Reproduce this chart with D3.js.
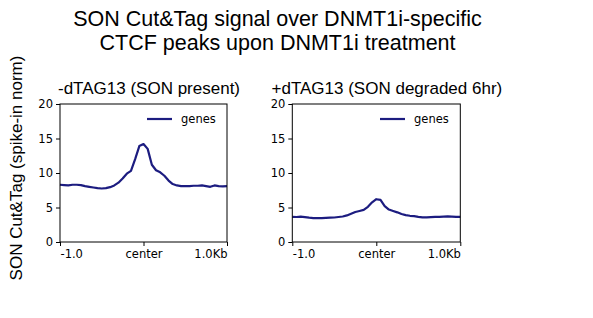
<!DOCTYPE html>
<html><head><meta charset="utf-8">
<script src="https://cdn.jsdelivr.net/npm/d3@7"></script>
<style>body{margin:0;background:#fff}svg{display:block}</style>
</head><body>
<svg id="c" width="593" height="318"></svg>
<script>
const positions = [-1.00,-0.95,-0.90,-0.85,-0.80,-0.75,-0.70,-0.65,-0.60,-0.55,-0.50,-0.45,-0.40,-0.35,-0.30,-0.25,-0.20,-0.15,-0.10,-0.05,0.00,0.05,0.10,0.15,0.20,0.25,0.30,0.35,0.40,0.45,0.50,0.55,0.60,0.65,0.70,0.75,0.80,0.85,0.90,0.95,1.00];
const sonPresent = [8.3,8.25,8.2,8.3,8.3,8.25,8.1,8.0,7.9,7.8,7.75,7.8,7.95,8.2,8.6,9.2,9.9,10.3,12.0,13.9,14.2,13.5,11.2,10.4,10.1,9.6,8.9,8.4,8.2,8.1,8.1,8.1,8.15,8.15,8.2,8.1,8.0,8.2,8.1,8.05,8.1];
const sonDegraded = [3.65,3.62,3.67,3.6,3.52,3.47,3.45,3.47,3.5,3.52,3.55,3.62,3.7,3.85,4.1,4.35,4.5,4.65,5.1,5.75,6.2,6.1,5.2,4.7,4.5,4.3,4.05,3.9,3.8,3.75,3.65,3.57,3.57,3.6,3.63,3.65,3.67,3.7,3.68,3.65,3.63];
const yTicks = [0,5,10,15,20];
const xTicks = [-1,0,1];
const xTickLabels = ["-1.0","center","1.0Kb"];
const panelTitles = ["-dTAG13 (SON present)","+dTAG13 (SON degraded 6hr)"];
const seriesName = "genes";
const titleLines = ["SON Cut&Tag signal over DNMT1i-specific","CTCF peaks upon DNMT1i treatment"];
const yLabel = "SON Cut&Tag (spike-in norm)";

const svg = d3.select("#c");
const color = "#1c1c80";
const sans = "'Liberation Sans', Arial, Helvetica, sans-serif";
const dv = "'DejaVu Sans', sans-serif";

svg.selectAll("text.title").data(titleLines).enter().append("text")
  .attr("x", 277.5).attr("y", (d,i)=>25.5 + i*24.3)
  .attr("text-anchor","middle").attr("font-family",sans).attr("font-size",21.5).attr("fill","#000")
  .text(d=>d);

svg.append("text").attr("transform","translate(22,168) rotate(-90)")
  .attr("text-anchor","middle").attr("font-family",sans).attr("font-size",17).text(yLabel);

const panels = [
  {x0:60, x1:227, data:sonPresent, title:panelTitles[0], tx:58, lx:147},
  {x0:292.3, x1:460.3, data:sonDegraded, title:panelTitles[1], tx:271.5, lx:380}
];
const yTop = 104, yBot = 242;
const y = d3.scaleLinear().domain([0,20]).range([yBot,yTop]);

panels.forEach(p=>{
  const x = d3.scaleLinear().domain([-1,1]).range([p.x0,p.x1]);
  const g = svg.append("g");
  svg.append("text").attr("x",p.tx).attr("y",93.5).attr("font-family",sans).attr("font-size",17).text(p.title);
  const line = d3.line().x((d,i)=>x(positions[i])).y(d=>y(d));
  g.append("path").datum(p.data).attr("d",line).attr("fill","none")
    .attr("stroke",color).attr("stroke-width",2.2).attr("stroke-linejoin","round");
  g.append("rect").attr("x",p.x0).attr("y",yTop).attr("width",p.x1-p.x0).attr("height",yBot-yTop)
    .attr("fill","none").attr("stroke","#000").attr("stroke-width",1);
  const ya = d3.axisLeft(y).tickValues(yTicks).tickSize(4).tickPadding(3).tickFormat(d3.format("d"));
  const yg = g.append("g").attr("transform",`translate(${p.x0},0)`).call(ya);
  yg.select(".domain").remove();
  yg.selectAll("text").attr("font-family",dv).attr("font-size",11.5).attr("fill","#000");
  const xa = d3.axisBottom(x).tickValues(xTicks).tickSize(4).tickPadding(4).tickFormat((d,i)=>xTickLabels[i]);
  const xg = g.append("g").attr("transform",`translate(0,${yBot})`).call(xa);
  xg.select(".domain").remove();
  xg.selectAll("text").attr("font-family",dv).attr("font-size",11.5).attr("fill","#000")
    .attr("text-anchor",(d,i)=>i===0?"start":(i===2?"end":"middle"));
  g.append("line").attr("x1",p.lx).attr("x2",p.lx+25).attr("y1",119).attr("y2",119)
    .attr("stroke",color).attr("stroke-width",2.2);
  g.append("text").attr("x",p.lx+34).attr("y",123).attr("font-family",dv).attr("font-size",11.5).text(seriesName);
});
</script>
</body></html>
